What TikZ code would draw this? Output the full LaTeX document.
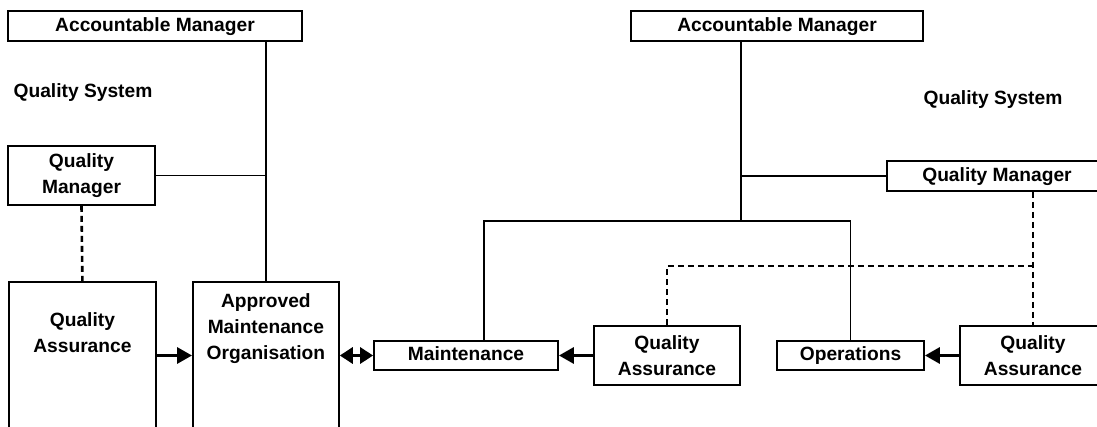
\documentclass[tikz,border=0pt]{standalone}
\usepackage{fontspec}
\setmainfont{Liberation Sans}
\usetikzlibrary{arrows.meta}
\begin{document}
\begin{tikzpicture}[x=1pt,y=-1pt,
  every node/.style={font=\fontsize{19.2}{26}\selectfont\bfseries, align=center},
  box/.style={draw, line width=1.8pt, fill=white, inner sep=0pt},
  one/.style={text height=14pt, text depth=4pt},
  conn/.style={line width=1.8pt},
  dsh/.style={line width=2.6pt, dash pattern=on 6pt off 4pt},
  arr/.style={line width=3.2pt, -{Triangle[length=15pt,width=16pt]}},
  darr/.style={line width=3.2pt, {Triangle[length=13pt,width=16pt]}-{Triangle[length=13pt,width=16pt]}},
  txt/.style={inner sep=0pt}]
\useasboundingbox (0,0) rectangle (1097,426);
\clip (0,0) rectangle (1097,426);
\fill[white] (0,0) rectangle (1097,426);
% left side
\node[box, one, minimum width=294pt, minimum height=30pt] (amL) at (155,26) {Accountable Manager};
\node[txt] (qsL) at (83,93) {Quality System};
\node[box, minimum width=147pt, minimum height=59pt] (qmL) at (81.5,175.5) {Quality\\Manager};
\node[box, anchor=north west, minimum width=147pt, minimum height=200pt] (qaL) at (8,281) {};
\node[txt] (qaLt) at ([yshift=-52pt]qaL.north) {Quality\\Assurance};
\node[box, anchor=north west, minimum width=146pt, minimum height=200pt] (amo) at (192,281) {};
\node[txt] (amot) at ([yshift=-48pt]amo.north) {Approved\\Maintenance\\Organisation};
% right side
\node[box, one, minimum width=292pt, minimum height=30pt] (amR) at (777,26) {Accountable Manager};
\node[txt] (qsR) at (993,100) {Quality System};
\node[box, one, minimum width=220pt, minimum height=30pt] (qmR) at (997,176) {Quality Manager};
\node[box, one, minimum width=184pt, minimum height=29pt] (maint) at (466,355.5) {Maintenance};
\node[box, minimum width=146pt, minimum height=59pt] (qaM) at (667,355.5) {Quality\\Assurance};
\node[box, one, minimum width=147pt, minimum height=29pt] (ops) at (850.5,355.5) {Operations};
\node[box, minimum width=146pt, minimum height=59pt] (qaR) at (1033,355.5) {Quality\\Assurance};
\coordinate (j1) at (741,221);
\coordinate (mtop) at (484,221);
\coordinate (dh) at (667,266);
% connectors left
\draw[conn] (amo.north) -- (amo.north |- amL.south);
\draw[conn] (qmL.east) -- (qmL.east -| amo.north);
\draw[dsh] (qmL.south) -- (qaL.north);
\draw[arr] (qaL.east |- maint.west) -- (amo.west |- maint.west);
\draw[darr] (amo.east |- maint.west) -- (maint.west);
% connectors right
\draw[conn] (j1 |- amR.south) -- (j1);
\draw[conn] (j1 |- qmR.west) -- (qmR.west);
\draw[conn] (mtop |- maint.north) -- (mtop) -- (ops.north |- mtop) -- (ops.north);
\draw[arr] (qaM.west) -- (maint.east);
\draw[arr] (qaR.west) -- (ops.east);
\draw[dsh] (qaM.north) -- (dh) -- (dh -| qaR.north);
\draw[dsh] (qaR.north |- qmR.south) -- (qaR.north);
\end{tikzpicture}
\end{document}
